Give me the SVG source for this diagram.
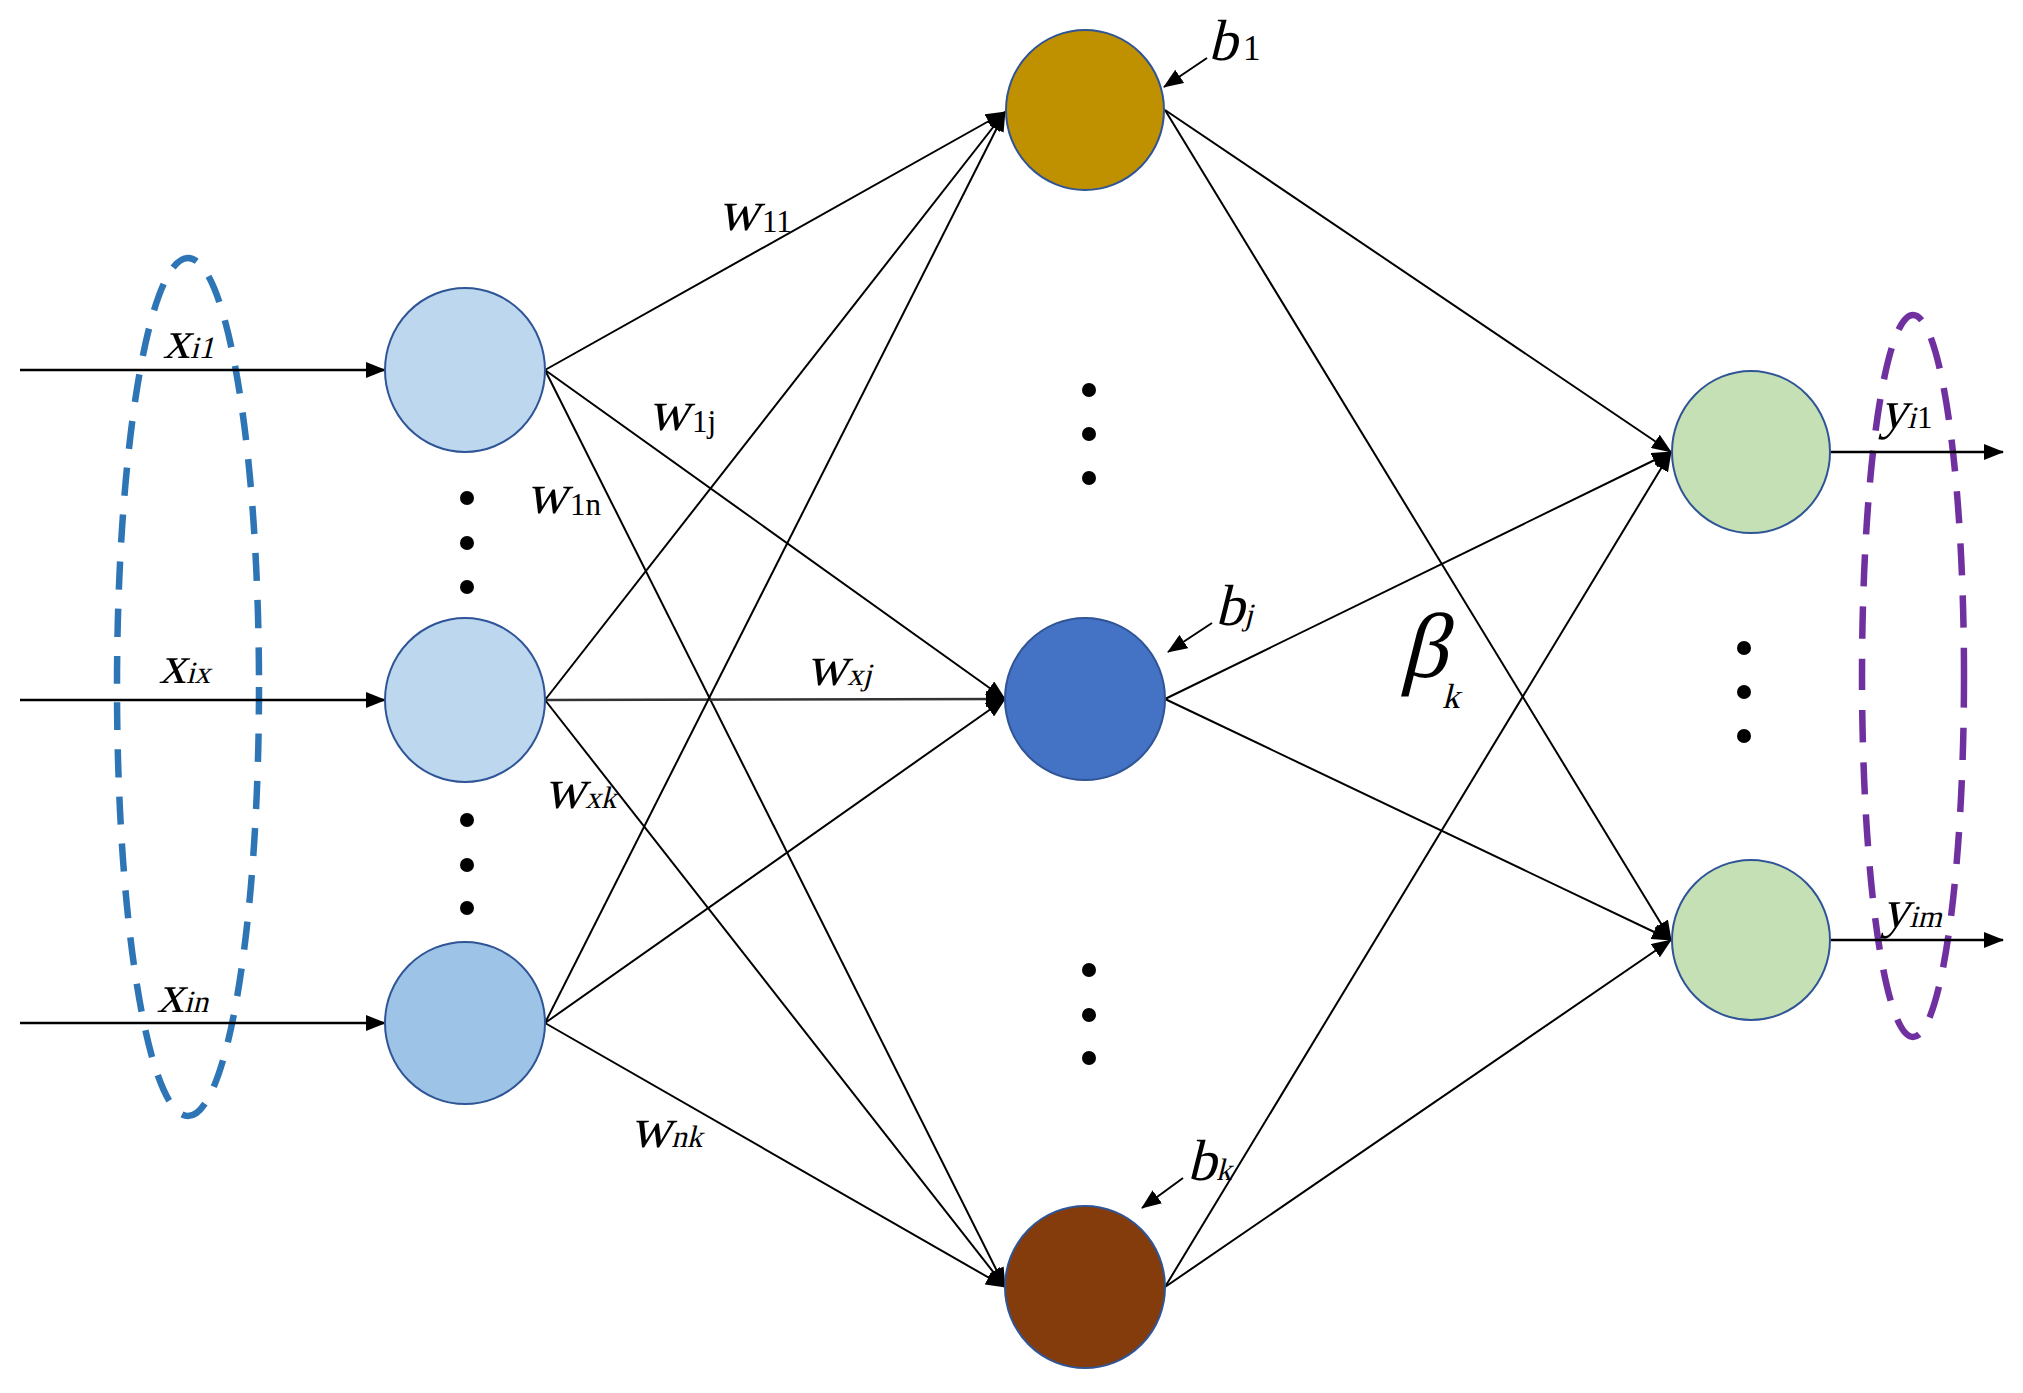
<svg xmlns="http://www.w3.org/2000/svg" width="2023" height="1393" viewBox="0 0 2023 1393">
<defs>
<marker id="ah" markerWidth="20" markerHeight="16" refX="19" refY="8" orient="auto" markerUnits="userSpaceOnUse"><path d="M0,0 L20,8 L0,16 z" fill="#000"/></marker>
<style>
.node{stroke:#2F5597;stroke-width:2}
.conn line{stroke:#000;stroke-width:2;marker-end:url(#ah)}
.dot{fill:#000}
.lbl text{font-family:"Liberation Serif","Times New Roman",serif;font-style:normal;fill:#000;font-size:54px}
.lbl .sub{font-size:31px}
.lbl .w{font-size:57px}
</style>
</defs>
<rect width="2023" height="1393" fill="#fff"/>

<g id="groups">
<ellipse id="input-group" cx="188" cy="687" rx="71" ry="429" fill="none" stroke="#2E75B6" stroke-width="6.5" stroke-dasharray="28 19"/>
<ellipse id="output-group" cx="1913" cy="676" rx="51" ry="361" fill="none" stroke="#7030A0" stroke-width="6.5" stroke-dasharray="32 20"/>
</g>

<g id="connectors" class="conn">
<line x1="20" y1="370" x2="385" y2="370" style="stroke-width:2.5"/>
<line x1="20" y1="700" x2="385" y2="700" style="stroke-width:2.5"/>
<line x1="20" y1="1023" x2="385" y2="1023" style="stroke-width:2.5"/>

<line x1="545" y1="370" x2="1005" y2="112"/>
<line x1="545" y1="370" x2="1005" y2="699"/>
<line x1="545" y1="370" x2="1005" y2="1287"/>
<line x1="545" y1="700" x2="1005" y2="112"/>
<line x1="545" y1="700" x2="1005" y2="699" style="stroke-width:2.6;stroke:#333"/>
<line x1="545" y1="700" x2="1005" y2="1287"/>
<line x1="545" y1="1023" x2="1005" y2="112"/>
<line x1="545" y1="1023" x2="1005" y2="699"/>
<line x1="545" y1="1023" x2="1005" y2="1287"/>

<line x1="1165" y1="110" x2="1671" y2="452"/>
<line x1="1165" y1="110" x2="1671" y2="940"/>
<line x1="1165" y1="699" x2="1671" y2="452"/>
<line x1="1165" y1="699" x2="1671" y2="940"/>
<line x1="1165" y1="1287" x2="1671" y2="452"/>
<line x1="1165" y1="1287" x2="1671" y2="940"/>

<line x1="1831" y1="452" x2="2003" y2="452" style="stroke-width:2.5"/>
<line x1="1831" y1="940" x2="2003" y2="940" style="stroke-width:2.5"/>

<line x1="1207" y1="58" x2="1164" y2="87"/>
<line x1="1212" y1="623" x2="1168" y2="652"/>
<line x1="1183" y1="1178" x2="1142" y2="1208"/>
</g>

<g id="input-1"><ellipse class="node" cx="465" cy="370" rx="80" ry="82" fill="#BDD7EE"/></g>
<g id="input-x"><ellipse class="node" cx="465" cy="700" rx="80" ry="82" fill="#BDD7EE"/></g>
<g id="input-n"><ellipse class="node" cx="465" cy="1023" rx="80" ry="81" fill="#9DC3E6"/></g>
<g id="hidden-1"><ellipse class="node" cx="1085" cy="110" rx="79" ry="80" fill="#BF9000"/></g>
<g id="hidden-j"><ellipse class="node" cx="1085" cy="699" rx="80" ry="81" fill="#4472C4"/></g>
<g id="hidden-k"><ellipse class="node" cx="1085" cy="1287" rx="80" ry="81" fill="#843C0C"/></g>
<g id="output-1"><ellipse class="node" cx="1751" cy="452" rx="79" ry="81" fill="#C5E0B4"/></g>
<g id="output-m"><ellipse class="node" cx="1751" cy="940" rx="79" ry="80" fill="#C5E0B4"/></g>

<g id="ellipsis-dots">
<circle class="dot" cx="467" cy="498" r="7"/><circle class="dot" cx="467" cy="543" r="7"/><circle class="dot" cx="467" cy="587" r="7"/>
<circle class="dot" cx="467" cy="820" r="7"/><circle class="dot" cx="467" cy="865" r="7"/><circle class="dot" cx="467" cy="908" r="7"/>
<circle class="dot" cx="1089" cy="390" r="7"/><circle class="dot" cx="1089" cy="434" r="7"/><circle class="dot" cx="1089" cy="478" r="7"/>
<circle class="dot" cx="1089" cy="970" r="7"/><circle class="dot" cx="1089" cy="1015" r="7"/><circle class="dot" cx="1089" cy="1058" r="7"/>
<circle class="dot" cx="1744" cy="648" r="7"/><circle class="dot" cx="1744" cy="692" r="7"/><circle class="dot" cx="1744" cy="736" r="7"/>
</g>

<g id="labels" class="lbl">
<text transform="translate(163,358) skewX(-14)">x<tspan class="sub">i1</tspan></text>
<text transform="translate(159,683) skewX(-14)">x<tspan class="sub">ix</tspan></text>
<text transform="translate(157,1012) skewX(-14)">x<tspan class="sub">in</tspan></text>

<text class="w" transform="translate(718,230) skewX(-14)">w</text><text class="sub" x="762" y="232">11</text>
<text class="w" transform="translate(648,430) skewX(-14)">w</text><text class="sub" x="692" y="432">1j</text>
<text class="w" transform="translate(526,513) skewX(-14)">w</text><text class="sub" x="570" y="515">1n</text>
<text class="w" transform="translate(806,685) skewX(-14)">w<tspan class="sub">xj</tspan></text>
<text class="w" transform="translate(544,808) skewX(-14)">w<tspan class="sub">xk</tspan></text>
<text class="w" transform="translate(630,1147) skewX(-14)">w<tspan class="sub">nk</tspan></text>

<text transform="translate(1208,60) skewX(-14)" style="font-size:58px">b</text><text class="sub" x="1243" y="60" style="font-size:35px">1</text>
<text transform="translate(1215,625) skewX(-14)" style="font-size:58px">b<tspan class="sub">j</tspan></text>
<text transform="translate(1187,1180) skewX(-14)" style="font-size:58px">b<tspan class="sub">k</tspan></text>

<text transform="translate(1400,677) skewX(-14)" style="font-size:92px">β</text>
<text transform="translate(1442,708) skewX(-14)" class="sub" style="font-size:35px">k</text>

<text transform="translate(1880,428) skewX(-14)">y<tspan class="sub">i</tspan></text><text class="sub" x="1917" y="428">1</text>
<text transform="translate(1882,927) skewX(-14)">y<tspan class="sub">im</tspan></text>
</g>
</svg>
